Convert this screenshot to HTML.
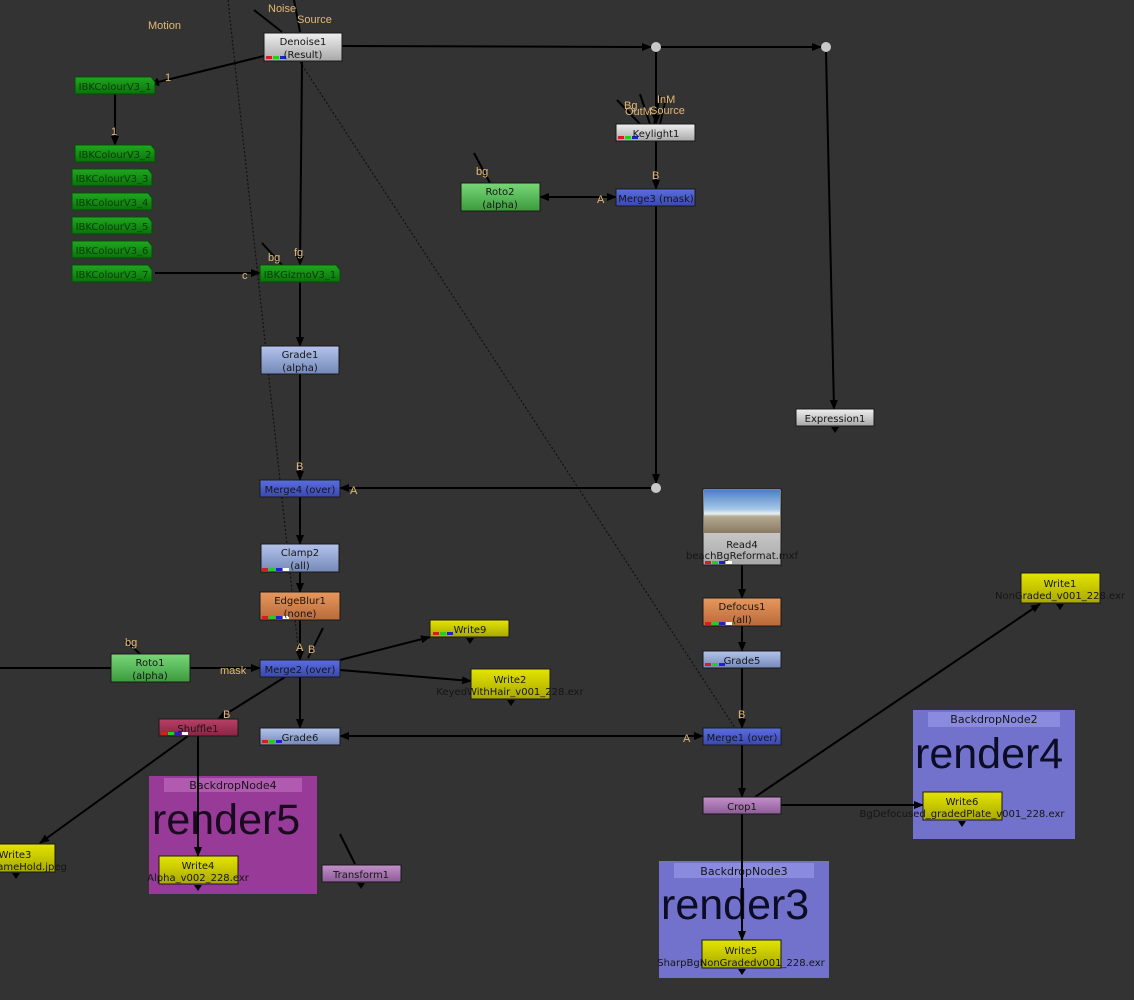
<!DOCTYPE html>
<html><head><meta charset="utf-8"><style>
html,body{margin:0;padding:0;background:#333333;}
svg{display:block;font-family:"Liberation Sans",sans-serif;}
.t{font-size:10px;font-family:"DejaVu Sans",sans-serif;fill:#151515;text-anchor:middle;}
.l{font-size:11px;fill:#e3b877;}
.e{stroke:#000;stroke-width:2;fill:none;}
.d{stroke:#111;stroke-width:1.2;stroke-dasharray:2 2;fill:none;}
.r{font-family:"Liberation Sans",sans-serif;font-size:43px;}
</style></head><body>
<svg width="1134" height="1000" viewBox="0 0 1134 1000" xmlns="http://www.w3.org/2000/svg">
<defs>
<marker id="a" markerWidth="10" markerHeight="8" refX="9" refY="4" orient="auto" markerUnits="userSpaceOnUse"><path d="M0,0L10,4L0,8z" fill="#000"/></marker>
<linearGradient id="gGray" x1="0" y1="0" x2="0" y2="1"><stop offset="0" stop-color="#f0f0f0"/><stop offset="1" stop-color="#a8a8a8"/></linearGradient>
<linearGradient id="gBlueL" x1="0" y1="0" x2="0" y2="1"><stop offset="0" stop-color="#b4c4ec"/><stop offset="1" stop-color="#7488b8"/></linearGradient>
<linearGradient id="gBlue" x1="0" y1="0" x2="0" y2="1"><stop offset="0" stop-color="#5a6ee0"/><stop offset="1" stop-color="#3a48b0"/></linearGradient>
<linearGradient id="gOr" x1="0" y1="0" x2="0" y2="1"><stop offset="0" stop-color="#e8985c"/><stop offset="1" stop-color="#b86a3a"/></linearGradient>
<linearGradient id="gYel" x1="0" y1="0" x2="0" y2="1"><stop offset="0" stop-color="#e4e400"/><stop offset="1" stop-color="#a8a800"/></linearGradient>
<linearGradient id="gGrn" x1="0" y1="0" x2="0" y2="1"><stop offset="0" stop-color="#78d878"/><stop offset="1" stop-color="#3c9a3c"/></linearGradient>
<linearGradient id="gIbk" x1="0" y1="0" x2="0" y2="1"><stop offset="0" stop-color="#1fa81f"/><stop offset="1" stop-color="#0a720a"/></linearGradient>
<linearGradient id="gMar" x1="0" y1="0" x2="0" y2="1"><stop offset="0" stop-color="#b84068"/><stop offset="1" stop-color="#8a2444"/></linearGradient>
<linearGradient id="gPur" x1="0" y1="0" x2="0" y2="1"><stop offset="0" stop-color="#c490cc"/><stop offset="1" stop-color="#8c5c96"/></linearGradient>
<linearGradient id="sky" x1="0" y1="0" x2="0" y2="1"><stop offset="0" stop-color="#4a80c8"/><stop offset="0.45" stop-color="#a8c8e8"/><stop offset="0.55" stop-color="#e8f0f4"/><stop offset="0.62" stop-color="#b4a890"/><stop offset="1" stop-color="#8a7a64"/></linearGradient>
</defs>

<!-- backdrops -->
<rect x="149" y="776" width="168" height="118" fill="#983a98"/>
<rect x="164" y="778" width="138" height="14" fill="#b05ab0"/>
<text x="233" y="789" class="t" style="font-size:11px">BackdropNode4</text>
<text x="152" y="834" class="r" fill="#1a0a20">render5</text>

<rect x="913" y="710" width="162" height="129" fill="#7272cc"/>
<rect x="928" y="712" width="132" height="15" fill="#8a8ade"/>
<text x="994" y="723" class="t" style="font-size:11px">BackdropNode2</text>
<text x="915" y="768" class="r" fill="#0c0c24">render4</text>

<rect x="659" y="861" width="170" height="117" fill="#7272cc"/>
<rect x="674" y="863" width="140" height="15" fill="#8a8ade"/>
<text x="744" y="875" class="t" style="font-size:11px">BackdropNode3</text>
<text x="661" y="919" class="r" fill="#0c0c24">render3</text>

<!-- dotted lines -->
<path class="d" d="M228,0 L300,665"/>
<path class="d" d="M300,62 L735,728"/>

<!-- edges -->
<path class="e" marker-end="url(#a)" d="M264,56 L150,84"/>
<path class="e" marker-end="url(#a)" d="M115,94 L115,145"/>
<path class="e" marker-end="url(#a)" d="M155,273 L260,273"/>
<path class="e" marker-end="url(#a)" d="M302,62 L300,265"/>
<path class="e" d="M254,10 L282,32"/>
<path class="e" d="M294,0 L300,32"/>
<path class="e" marker-end="url(#a)" d="M342,46 L651,47"/>
<path class="e" marker-end="url(#a)" d="M661,47 L821,47"/>
<path class="e" marker-end="url(#a)" d="M656,52 L656,124"/>
<path class="e" marker-end="url(#a)" d="M826,52 L834,409"/>
<path class="e" d="M617,100 L640,124 M640,94 L650,124 M660,96 L654,124 M666,98 L660,124"/>
<path class="e" marker-end="url(#a)" d="M656,141 L656,189"/>
<path class="e" marker-end="url(#a)" d="M540,197 L616,197"/>
<path class="e" marker-end="url(#a)" d="M616,197 L540,197"/>
<path class="e" d="M474,153 L490,183"/>
<path class="e" marker-end="url(#a)" d="M656,206 L656,483"/>
<path class="e" marker-end="url(#a)" d="M651,488 L340,488"/>
<path class="e" marker-end="url(#a)" d="M300,282 L300,346"/>
<path class="e" d="M262,243 L282,265"/>
<path class="e" marker-end="url(#a)" d="M300,374 L300,480"/>
<path class="e" marker-end="url(#a)" d="M300,497 L300,544"/>
<path class="e" marker-end="url(#a)" d="M300,572 L300,592"/>
<path class="e" marker-end="url(#a)" d="M300,620 L300,660"/>
<path class="e" d="M323,628 L308,658"/>
<path class="e" marker-end="url(#a)" d="M0,668 L260,668"/>
<path class="e" d="M125,640 L140,654"/>
<path class="e" marker-end="url(#a)" d="M340,660 L430,637"/>
<path class="e" marker-end="url(#a)" d="M340,670 L471,681"/>
<path class="e" marker-end="url(#a)" d="M300,677 L300,728"/>
<path class="e" marker-end="url(#a)" d="M285,677 L218,719"/>
<path class="e" marker-end="url(#a)" d="M188,736 L40,843"/>
<path class="e" marker-end="url(#a)" d="M198,736 L198,856"/>
<path class="e" marker-end="url(#a)" d="M703,736 L340,736"/>
<path class="e" marker-end="url(#a)" d="M340,736 L703,736"/>
<path class="e" d="M340,834 L355,864"/>
<path class="e" marker-end="url(#a)" d="M742,565 L742,598"/>
<path class="e" marker-end="url(#a)" d="M742,626 L742,651"/>
<path class="e" marker-end="url(#a)" d="M742,668 L742,728"/>
<path class="e" marker-end="url(#a)" d="M742,745 L742,797"/>
<path class="e" marker-end="url(#a)" d="M755,797 L1040,604"/>
<path class="e" marker-end="url(#a)" d="M781,805 L923,805"/>
<path class="e" marker-end="url(#a)" d="M742,814 L742,940"/>

<!-- dots -->
<circle cx="656" cy="47" r="5" fill="#c8c8c8"/>
<circle cx="826" cy="47" r="5" fill="#c8c8c8"/>
<circle cx="656" cy="488" r="5" fill="#c8c8c8"/>

<!-- IBK nodes -->
<g fill="url(#gIbk)" stroke="#0a4a0a" stroke-width="1">
<path d="M75,77h76l4,5v12h-80z"/>
<path d="M75,145h76l4,5v12h-80z"/>
<path d="M72,169h76l4,5v12h-80z"/>
<path d="M72,193h76l4,5v12h-80z"/>
<path d="M72,217h76l4,5v12h-80z"/>
<path d="M72,241h76l4,5v12h-80z"/>
<path d="M72,265h76l4,5v12h-80z"/>
<path d="M260,265h76l4,5v12h-80z"/>
</g>
<g class="t" style="fill:#0a3a0a">
<text x="115" y="90">IBKColourV3_1</text>
<text x="115" y="158">IBKColourV3_2</text>
<text x="112" y="182">IBKColourV3_3</text>
<text x="112" y="206">IBKColourV3_4</text>
<text x="112" y="230">IBKColourV3_5</text>
<text x="112" y="254">IBKColourV3_6</text>
<text x="112" y="278">IBKColourV3_7</text>
<text x="300" y="278">IBKGizmoV3_1</text>
</g>

<!-- regular nodes -->
<g stroke="#1a1a1a" stroke-width="1">
<rect x="264" y="33" width="78" height="28" fill="url(#gGray)"/>
<rect x="616" y="124" width="79" height="17" fill="url(#gGray)"/>
<rect x="461" y="183" width="79" height="28" fill="url(#gGrn)"/>
<rect x="616" y="189" width="79" height="17" fill="url(#gBlue)"/>
<rect x="261" y="346" width="78" height="28" fill="url(#gBlueL)"/>
<rect x="796" y="409" width="78" height="17" fill="url(#gGray)"/>
<rect x="260" y="480" width="80" height="17" fill="url(#gBlue)"/>
<rect x="261" y="544" width="78" height="28" fill="url(#gBlueL)"/>
<rect x="260" y="592" width="80" height="28" fill="url(#gOr)"/>
<rect x="111" y="654" width="79" height="28" fill="url(#gGrn)"/>
<rect x="260" y="660" width="80" height="17" fill="url(#gBlue)"/>
<rect x="430" y="620" width="79" height="17" fill="url(#gYel)"/>
<rect x="471" y="669" width="79" height="30" fill="url(#gYel)"/>
<rect x="159" y="719" width="79" height="17" fill="url(#gMar)"/>
<rect x="260" y="728" width="80" height="17" fill="url(#gBlueL)"/>
<rect x="159" y="856" width="79" height="28" fill="url(#gYel)"/>
<rect x="322" y="865" width="79" height="17" fill="url(#gPur)"/>
<rect x="-2" y="844" width="57" height="28" fill="url(#gYel)"/>
<rect x="703" y="489" width="78" height="76" fill="url(#gGray)"/>
<rect x="703" y="598" width="78" height="28" fill="url(#gOr)"/>
<rect x="703" y="651" width="78" height="17" fill="url(#gBlueL)"/>
<rect x="703" y="728" width="78" height="17" fill="url(#gBlue)"/>
<rect x="703" y="797" width="78" height="17" fill="url(#gPur)"/>
<rect x="1021" y="573" width="79" height="30" fill="url(#gYel)"/>
<rect x="923" y="792" width="79" height="28" fill="url(#gYel)"/>
<rect x="702" y="940" width="79" height="28" fill="url(#gYel)"/>
</g>
<rect x="704" y="490" width="76" height="43" fill="url(#sky)"/>
<path class="e" d="M742,879 L742,940"/>
<path class="e" marker-end="url(#a)" d="M198,790 L198,856"/>

<!-- channel bars -->
<g>
<rect x="266" y="56" width="6" height="3" fill="#d02020"/><rect x="273" y="56" width="6" height="3" fill="#20d020"/><rect x="280" y="56" width="6" height="3" fill="#2020d0"/>
<rect x="618" y="136" width="6" height="3" fill="#d02020"/><rect x="625" y="136" width="6" height="3" fill="#20d020"/><rect x="632" y="136" width="6" height="3" fill="#2020d0"/>
<rect x="262" y="568" width="6" height="3" fill="#d02020"/><rect x="269" y="568" width="6" height="3" fill="#20d020"/><rect x="276" y="568" width="6" height="3" fill="#2020d0"/><rect x="283" y="568" width="6" height="3" fill="#fff"/>
<rect x="262" y="616" width="6" height="3" fill="#d02020"/><rect x="269" y="616" width="6" height="3" fill="#20d020"/><rect x="276" y="616" width="6" height="3" fill="#2020d0"/><rect x="283" y="616" width="6" height="3" fill="#fff"/>
<rect x="262" y="740" width="6" height="3" fill="#d02020"/><rect x="269" y="740" width="6" height="3" fill="#20d020"/><rect x="276" y="740" width="6" height="3" fill="#2020d0"/>
<rect x="161" y="732" width="6" height="3" fill="#d02020"/><rect x="168" y="732" width="6" height="3" fill="#20d020"/><rect x="175" y="732" width="6" height="3" fill="#2020d0"/><rect x="182" y="732" width="6" height="3" fill="#fff"/>
<rect x="433" y="632" width="6" height="3" fill="#d02020"/><rect x="440" y="632" width="6" height="3" fill="#20d020"/><rect x="447" y="632" width="6" height="3" fill="#2020d0"/>
<rect x="705" y="561" width="6" height="3" fill="#d02020"/><rect x="712" y="561" width="6" height="3" fill="#20d020"/><rect x="719" y="561" width="6" height="3" fill="#2020d0"/><rect x="726" y="561" width="6" height="3" fill="#fff"/>
<rect x="705" y="622" width="6" height="3" fill="#d02020"/><rect x="712" y="622" width="6" height="3" fill="#20d020"/><rect x="719" y="622" width="6" height="3" fill="#2020d0"/><rect x="726" y="622" width="6" height="3" fill="#fff"/>
<rect x="705" y="663" width="6" height="3" fill="#d02020"/><rect x="712" y="663" width="6" height="3" fill="#20d020"/><rect x="719" y="663" width="6" height="3" fill="#2020d0"/>
</g>

<!-- node labels -->
<g class="t">
<text x="303" y="45">Denoise1</text><text x="303" y="58">(Result)</text>
<text x="656" y="137">Keylight1</text>
<text x="500" y="195">Roto2</text><text x="500" y="208">(alpha)</text>
<text x="656" y="202">Merge3 (mask)</text>
<text x="300" y="358">Grade1</text><text x="300" y="371">(alpha)</text>
<text x="835" y="422">Expression1</text>
<text x="300" y="493">Merge4 (over)</text>
<text x="300" y="556">Clamp2</text><text x="300" y="569">(all)</text>
<text x="300" y="604">EdgeBlur1</text><text x="300" y="617">(none)</text>
<text x="150" y="666">Roto1</text><text x="150" y="679">(alpha)</text>
<text x="300" y="673">Merge2 (over)</text>
<text x="470" y="633">Write9</text>
<text x="510" y="683">Write2</text><text x="510" y="695">KeyedWithHair_v001_228.exr</text>
<text x="198" y="732">Shuffle1</text>
<text x="300" y="741">Grade6</text>
<text x="198" y="869">Write4</text><text x="198" y="881">Alpha_v002_228.exr</text>
<text x="361" y="878">Transform1</text>
<text x="15" y="858">Write3</text><text x="30" y="870">rameHold.jpeg</text>
<text x="742" y="548">Read4</text><text x="742" y="559">beachBgReformat.mxf</text>
<text x="742" y="610">Defocus1</text><text x="742" y="623">(all)</text>
<text x="742" y="664">Grade5</text>
<text x="742" y="741">Merge1 (over)</text>
<text x="742" y="810">Crop1</text>
<text x="1060" y="587">Write1</text><text x="1060" y="599">NonGraded_v001_228.exr</text>
<text x="962" y="805">Write6</text><text x="962" y="817">BgDefocused_gradedPlate_v001_228.exr</text>
<text x="741" y="954">Write5</text><text x="741" y="966">SharpBgNonGradedv001_228.exr</text>
</g>

<!-- orange labels -->
<g class="l">
<text x="148" y="29">Motion</text>
<text x="268" y="12">Noise</text>
<text x="297" y="23">Source</text>
<text x="165" y="81">1</text>
<text x="111" y="135">1</text>
<text x="242" y="279">c</text>
<text x="268" y="261">bg</text>
<text x="294" y="256">fg</text>
<text x="624" y="109">Bg</text>
<text x="625" y="115">OutM</text>
<text x="657" y="103">InM</text>
<text x="650" y="114">Source</text>
<text x="652" y="179">B</text>
<text x="476" y="175">bg</text>
<text x="597" y="203">A</text>
<text x="296" y="470">B</text>
<text x="350" y="494">A</text>
<text x="125" y="646">bg</text>
<text x="220" y="674">mask</text>
<text x="296" y="651">A</text>
<text x="308" y="653">B</text>
<text x="223" y="718">B</text>
<text x="738" y="718">B</text>
<text x="683" y="742">A</text>
</g>
<g fill="#000">
<path d="M466,638l4,6l4,-6z"/><path d="M507,700l4,6l4,-6z"/><path d="M194,885l4,6l4,-6z"/>
<path d="M357,883l4,6l4,-6z"/><path d="M12,873l4,6l4,-6z"/><path d="M1056,604l4,6l4,-6z"/>
<path d="M958,821l4,6l4,-6z"/><path d="M738,969l4,6l4,-6z"/><path d="M831,427l4,6l4,-6z"/>
</g>
</svg>
</body></html>
